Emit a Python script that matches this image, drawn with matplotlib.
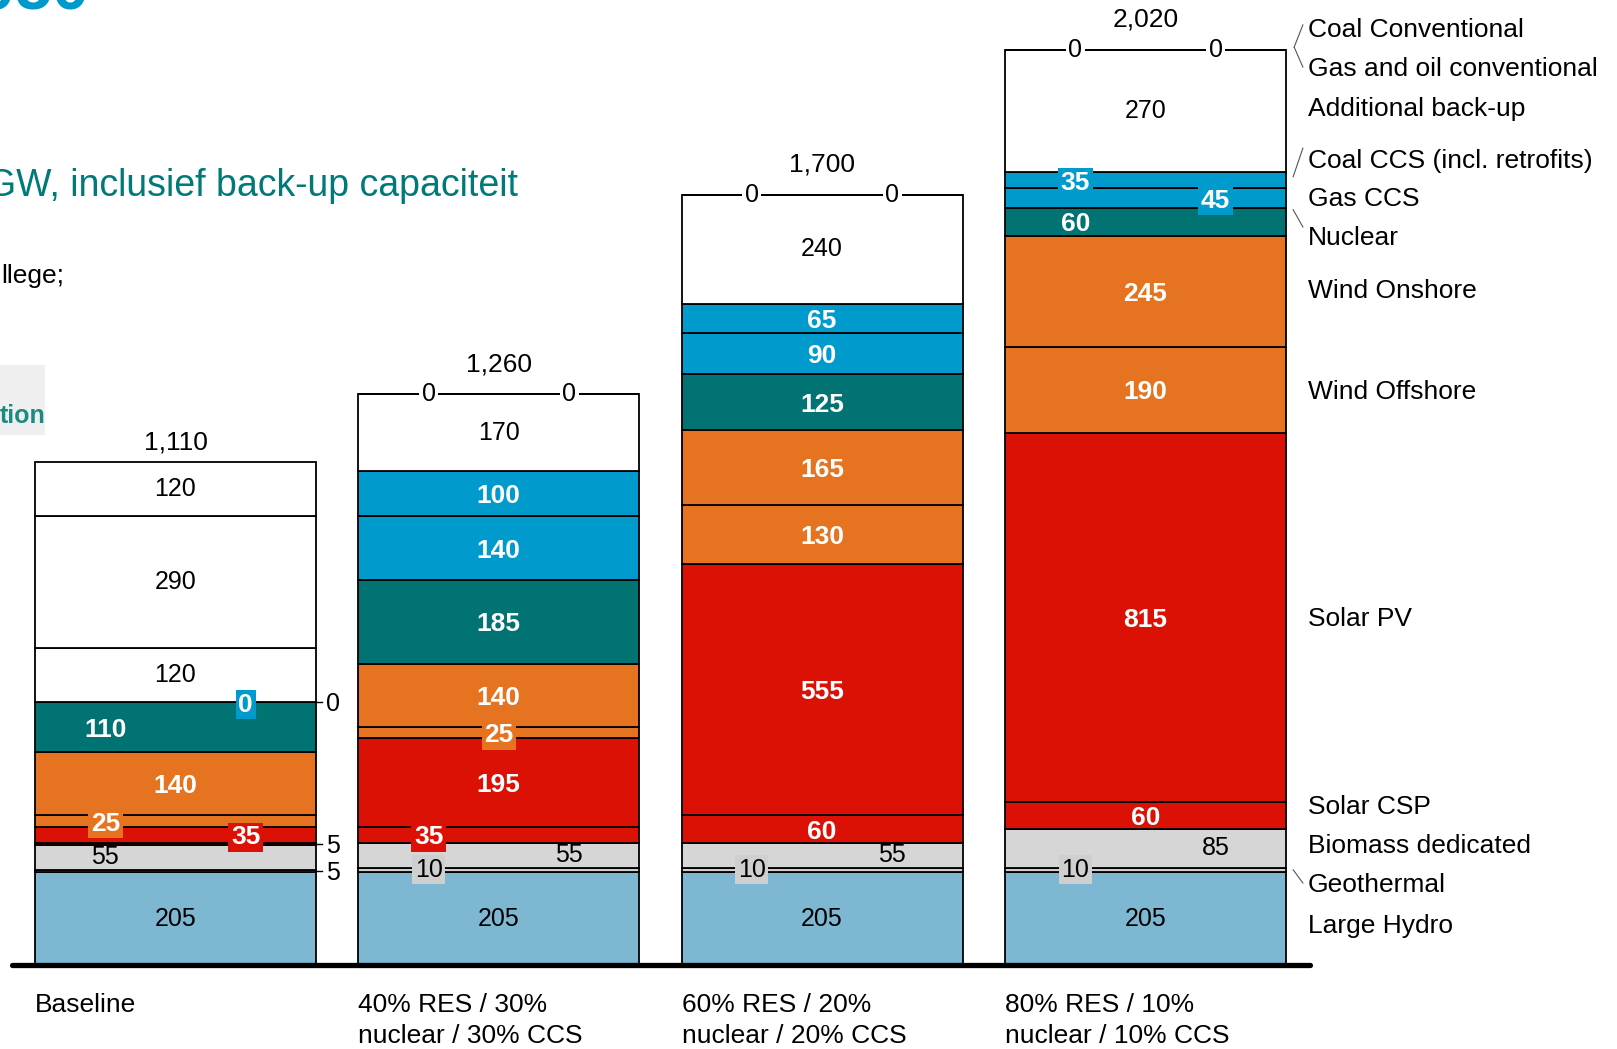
import matplotlib
matplotlib.use("Agg")
import matplotlib.pyplot as plt
from matplotlib.patches import Rectangle

plt.rcParams["font.family"] = ["Liberation Sans", "DejaVu Sans"]

# ---------------- data ----------------
scenarios = ["Baseline",
             "40% RES / 30%\nnuclear / 30% CCS",
             "60% RES / 20%\nnuclear / 20% CCS",
             "80% RES / 10%\nnuclear / 10% CCS"]
technologies = ["Large Hydro", "Geothermal", "Biomass dedicated", "Solar CSP",
                "Solar PV", "Wind Offshore", "Wind Onshore", "Nuclear",
                "Gas CCS", "Coal CCS (incl. retrofits)", "Additional back-up",
                "Gas and oil conventional", "Coal Conventional"]
large_hydro = [205, 205, 205, 205]
geothermal = [5, 10, 10, 10]
biomass = [55, 55, 55, 85]
solar_csp = [5, 35, 60, 60]
solar_pv = [35, 195, 555, 815]
wind_offshore = [25, 25, 130, 190]
wind_onshore = [140, 140, 165, 245]
nuclear = [110, 185, 125, 60]
gas_ccs = [0, 140, 90, 45]
coal_ccs = [0, 100, 65, 35]
additional_backup = [120, 170, 240, 270]
gas_oil_conventional = [290, 0, 0, 0]
coal_conventional = [120, 0, 0, 0]
totals = [1110, 1260, 1700, 2020]

series = [large_hydro, geothermal, biomass, solar_csp, solar_pv, wind_offshore,
          wind_onshore, nuclear, gas_ccs, coal_ccs, additional_backup,
          gas_oil_conventional, coal_conventional]

# ---------------- style ----------------
LBLUE, GREY, GREY2 = "#7EB7D2", "#CFCFCF", "#D6D6D6"
RED, ORANGE, TEAL, BLUE, WHITE = "#DB1105", "#E5731F", "#007372", "#009BCC", "#FFFFFF"
colors = [LBLUE, GREY, GREY2, RED, RED, ORANGE, ORANGE, TEAL, BLUE, BLUE,
          WHITE, WHITE, WHITE]
dark_fill = [False, False, False, True, True, True, True, True, True, True,
             False, False, False]

# label placement per bar (c=centre, l=left quarter, r=right quarter, out=outside right)
PLACE = [
    ["c", "out", "l", "out", "r", "l", "c", "l", "r", "out", "c", "c", "c"],
    ["c", "l", "r", "l", "c", "c", "c", "c", "c", "c", "c", "l", "r"],
    ["c", "l", "r", "c", "c", "c", "c", "c", "c", "c", "c", "l", "r"],
    ["c", "l", "r", "c", "c", "c", "c", "l", "r", "l", "c", "l", "r"],
]
LEGEND_Y = [90, 179, 265, 353, 766, 1269, 1490, 1607, 1693, 1779, 1892, 1982, 2068]
LEGEND_X = 3.503
LEADERS = [((3.487, 2075), (3.460, 2026)), ((3.460, 2026), (3.487, 1982)),
           ((3.487, 1803), (3.457, 1740)), ((3.457, 1667), (3.487, 1629)),
           ((3.457, 210), (3.487, 181))]
DY_BOLD = -2.5   # vertical nudge (pixels) for bold centred texts
DY_SIDE = -2.0   # vertical nudge for side labels

BAR_W = 0.869
W, H = 1617, 1049
fig = plt.figure(figsize=(W / 100, H / 100), dpi=100)
ax = fig.add_axes([12 / W, (H - 965) / H, 1298 / W, 965 / H])
ax.set_xlim(-0.5057, 3.509)
ax.set_ylim(0, 2130)
ax.axis("off")


def ctext(xv, yv, s, dy=0.0, **kw):
    return ax.annotate(s, (xv, yv), xytext=(0, dy), textcoords="offset pixels",
                       va="center", annotation_clip=False, **kw)


x = list(range(len(scenarios)))
bottoms = [0] * len(x)
for k, vals in enumerate(series):
    ax.bar(x, vals, bottom=bottoms, width=BAR_W, color=colors[k],
           edgecolor="black", linewidth=1.3, zorder=2)
    for i, v in enumerate(vals):
        place = PLACE[i][k]
        yc = bottoms[i] + v / 2
        left = i - BAR_W / 2
        right = i + BAR_W / 2
        if dark_fill[k]:
            kw = dict(color="white", fontweight="bold", fontsize=19)
            dy = DY_BOLD
        else:
            kw = dict(color="black", fontsize=18)
            dy = 0.0
        if place == "out":
            ax.plot([right, right + 0.018], [yc, yc], color="black", lw=1.0,
                    zorder=3, clip_on=False)
            ctext(right + 0.030, yc, f"{v}", dy=DY_SIDE, ha="left", color="black",
                  fontsize=18, zorder=4)
            continue
        xpos = {"c": i, "l": left + BAR_W * 0.25, "r": left + BAR_W * 0.75}[place]
        bbox = None
        if v < 50:
            bbox = dict(boxstyle="square,pad=0.1", fc=colors[k], ec="none")
        ctext(xpos, yc, f"{v}", dy=dy, ha="center", bbox=bbox, zorder=5, **kw)
    bottoms = [b + v for b, v in zip(bottoms, vals)]

# totals
for i, t in enumerate(totals):
    off = 20 if i == 0 else 30
    ax.annotate(f"{t:,}", (i, bottoms[i]), xytext=(0, off), textcoords="offset pixels",
                ha="center", va="center", fontsize=19, color="black")

# category labels (two lines, left aligned with bar)
for i, lab in enumerate(scenarios):
    for j, line in enumerate(lab.split("\n")):
        ax.annotate(line, (i - BAR_W / 2, 0), xytext=(0, -47 - 31 * j),
                    textcoords="offset pixels", ha="left", va="baseline",
                    fontsize=19, color="black", annotation_clip=False)

# axis baseline
ax.plot([-0.5057, 3.509], [0, 0], color="black", lw=3.8, solid_capstyle="round",
        zorder=6, clip_on=False)

# legend labels at right
for k, name in enumerate(technologies):
    ctext(LEGEND_X, LEGEND_Y[k], name, dy=-1.5, ha="left", fontsize=19, color="black")
for (p, q) in LEADERS:
    ax.plot([p[0], q[0]], [p[1], q[1]], color="#555555", lw=0.8, clip_on=False)

# fragments of surrounding slide
fig.text(90 / W, 1 - 10 / H, "2050", ha="right", va="baseline", fontsize=48,
         fontweight="bold", color="#0099CC")
fig.text(518 / W, 1 - 186 / H, "GW, inclusief back-up capaciteit", ha="right",
         va="center", fontsize=27, color="#007A78")
fig.text(64 / W, 1 - 276 / H, "llege;", ha="right", va="center", fontsize=19,
         color="black")
fig.patches.append(Rectangle((0, 1 - 435 / H), 45 / W, 70 / H, transform=fig.transFigure,
                             fc="#EFEFEF", ec="none", zorder=0))
fig.text(45 / W, 1 - 416 / H, "tion", ha="right", va="center", fontsize=18,
         fontweight="bold", color="#1C8A83")

fig.savefig("out.png", dpi=100)
